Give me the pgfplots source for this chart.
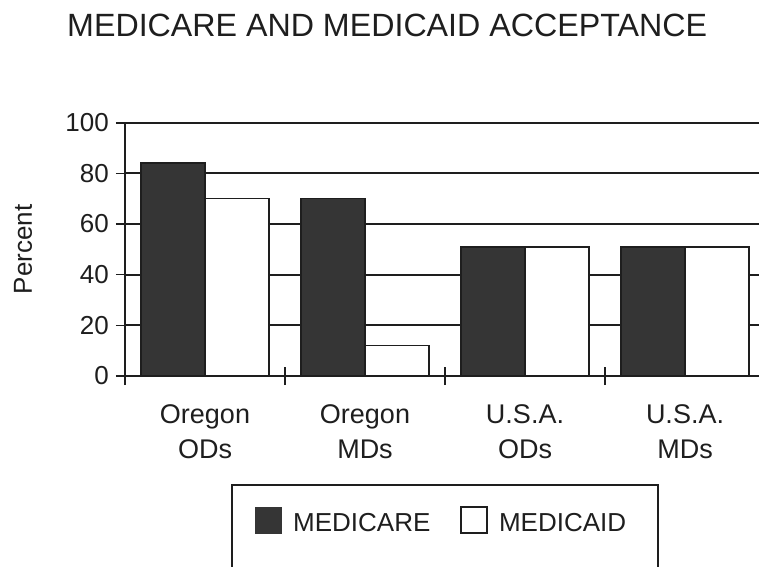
\documentclass[border=0pt]{standalone}
\usepackage{pgfplots}
\pgfplotsset{compat=1.18}
\usepackage{fontspec}
\setmainfont{Liberation Sans}

\definecolor{ink}{HTML}{1E1E1E}
\definecolor{barDark}{HTML}{353535}

\begin{document}
\begin{tikzpicture}[x=1pt,y=1pt]
\useasboundingbox (0,0) rectangle (759,566);
\clip (0,0) rectangle (759,566);

\begin{axis}[
  at={(125pt,190pt)}, anchor=south west,
  scale only axis,
  width=634pt, height=253.3pt,
  xmin=-0.5, xmax=3.4625,
  ymin=0, ymax=100,
  ybar=0pt, bar width=64pt,
  axis x line*=bottom, axis y line*=left,
  axis line style={-, ink, line width=1.8pt},
  ytick={0,20,...,100},
  ymajorgrids,
  major grid style={ink, line width=1.8pt},
  xtick={-0.5,0.5,1.5,2.5},
  xticklabels={},
  extra x ticks={0,1,2,3},
  extra x tick labels={{Oregon\\ODs},{Oregon\\MDs},{U.S.A.\\ODs},{U.S.A.\\MDs}},
  extra x tick style={major tick length=0pt, grid=none},
  tick align=center,
  major tick length=18pt,
  tick style={ink, line width=1.6pt},
  /pgf/number format/assume math mode=true,
  yticklabel style={font=\fontsize{26}{30}\selectfont, text=ink, inner sep=0pt,
    anchor=east, xshift=-7pt},
  xticklabel style={font=\fontsize{27}{35}\selectfont, text=ink, align=center,
    inner sep=0pt, anchor=north, yshift=-28pt},
  ylabel={Percent},
  every axis y label/.style={at={(rel axis cs:0,0.5)}, rotate=90, anchor=center,
    yshift=102pt, font=\fontsize{26}{30}\selectfont, text=ink},
  legend columns=4,
  legend style={at={(0.2050,-0.5685)}, anchor=west, draw=none, fill=none,
    inner sep=0pt, font=\fontsize{26}{30}\selectfont, text=ink,
    nodes={inner sep=0pt},
    /tikz/every odd column/.append style={column sep=11pt},
    /tikz/every even column/.append style={column sep=30pt}},
  legend cell align=left,
]
\addplot[fill=barDark, draw=ink, line width=1.5pt,
  legend image code/.code={\draw[fill=barDark, draw=barDark, line width=1pt] (0pt,-9.4pt) rectangle (26pt,16.6pt);}]
  coordinates {(0,84) (1,70) (2,51) (3,51)};
\addlegendentry{MEDICARE}
\addplot[fill=white, draw=ink, line width=1.5pt,
  legend image code/.code={\draw[fill=white, draw=ink, line width=1.6pt] (0pt,-9.4pt) rectangle (26pt,16.6pt);}]
  coordinates {(0,70) (1,12) (2,51) (3,51)};
\addlegendentry{MEDICAID}
\end{axis}

\node[anchor=base west, font=\fontsize{32.2}{38}\selectfont, text=ink, inner sep=0pt]
  at (67,529) {MEDICARE AND MEDICAID ACCEPTANCE};

% frame round the legend, running off the lower edge
\draw[ink, line width=1.5pt] (232,-40) rectangle (658,81);
\end{tikzpicture}
\end{document}
